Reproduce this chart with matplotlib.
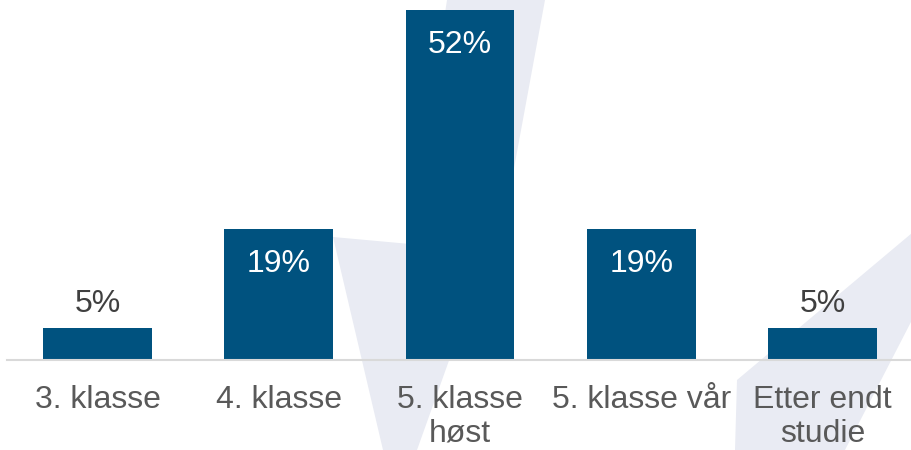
import matplotlib
matplotlib.use("Agg")
import matplotlib.pyplot as plt
from matplotlib.patches import Polygon

categories = ["3. klasse", "4. klasse", "5. klasse\nhøst", "5. klasse vår", "Etter endt\nstudie"]
values = [4.8, 19.4, 52.0, 19.4, 4.8]

BAR = "#00527F"
WM = "#E9EBF3"

plt.rcParams['font.family'] = ['Liberation Sans', 'DejaVu Sans']

W, H = 912, 450
fig = plt.figure(figsize=(W / 100, H / 100), dpi=100)
fig.patch.set_facecolor("white")

def px(pts):
    return [(x / W, 1 - y / H) for x, y in pts]

# light watermark shapes in the background
wm1 = [(447, 0), (545, 0), (510, 190), (417, 450), (383, 450), (333, 237), (410, 244)]
wm2 = [(912, 233), (737, 380), (735, 450), (845, 450), (912, 320)]
for poly in (wm1, wm2):
    fig.patches.append(Polygon(px(poly), closed=True, transform=fig.transFigure,
                               facecolor=WM, edgecolor="none", zorder=-5))

ax = fig.add_axes([7 / W, 0.2, 906 / W, 0.8])
ax.set_zorder(1)
ax.set_facecolor("none")
x = list(range(len(categories)))
bars = ax.bar(x, values, width=0.6, color=BAR, zorder=2)
ax.set_xlim(-0.5, 4.5)
ax.set_ylim(0, 53.5)

for s in ("top", "right", "left"):
    ax.spines[s].set_visible(False)
ax.spines["bottom"].set_color("#D9D9D9")
ax.spines["bottom"].set_linewidth(1.5)
ax.set_yticks([])
ax.set_xticks(x)
ax.set_xticklabels(categories, fontsize=23, color="#595959", linespacing=1.17)
ax.tick_params(axis="x", length=0, pad=18)

for xi, v in zip(x, values):
    label = f"{round(v)}%"
    if v > 10:
        ax.annotate(label, (xi, v), xytext=(0, -35), textcoords="offset pixels",
                    ha="center", va="center", fontsize=23, color="white", zorder=3)
    else:
        ax.annotate(label, (xi, v), xytext=(0, 24), textcoords="offset pixels",
                    ha="center", va="center", fontsize=23, color="#404040", zorder=3)

fig.savefig("out.png", dpi=100)
